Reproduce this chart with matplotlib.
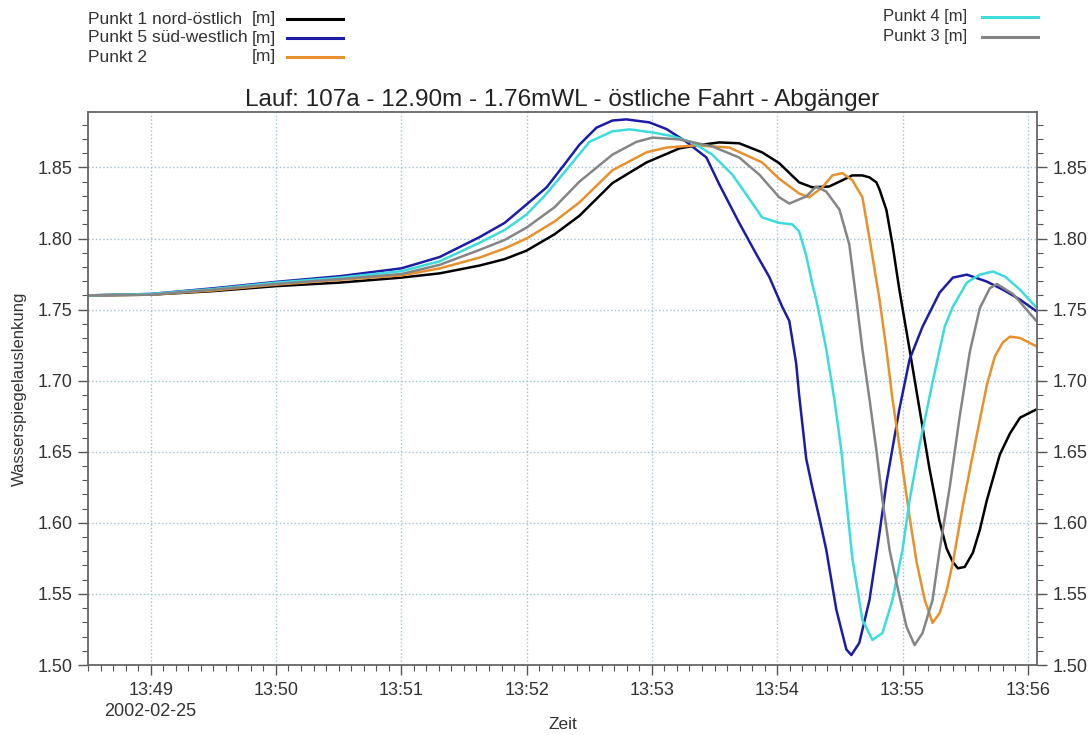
import matplotlib
matplotlib.use("Agg")
import matplotlib.pyplot as plt
import matplotlib.dates as mdates
from matplotlib.ticker import MultipleLocator, FormatStrFormatter, FuncFormatter
from matplotlib.lines import Line2D
import datetime as dt

plt.rcParams['font.family'] = ['Liberation Sans', 'DejaVu Sans']

TITLE = "Lauf: 107a - 12.90m - 1.76mWL - östliche Fahrt - Abgänger"
DATE_LABEL = "2002-02-25"
BASE = dt.datetime(2002, 2, 25, 13, 48, 0)   # times below: seconds after 13:48:00

# Punkt 1 nord-östlich
p1_t = [30, 60, 90, 120, 150.6, 180, 198.4, 217.5, 229.5, 240, 253.4, 265.3, 281.1, 297.4,
        313.2, 321.3, 332.3, 341.8, 352.8, 361, 370.5, 376.8, 384.9, 391.2, 396, 400.8, 404.2,
        407.5, 409, 412.3, 415.2, 418.5, 423.4, 428.2, 432.8, 437.6, 441.1, 444.1, 446.5, 449.8,
        453.7, 457, 460.4, 466.6, 471.5, 476.3, 484.4]
p1_v = [1.760, 1.7605, 1.763, 1.7665, 1.769, 1.7725, 1.7755, 1.781, 1.7855, 1.7915, 1.803, 1.816,
        1.839, 1.8535, 1.8634, 1.8655, 1.8676, 1.867, 1.8606, 1.853, 1.8395, 1.836, 1.8366, 1.841,
        1.8444, 1.8444, 1.843, 1.8395, 1.8345, 1.820, 1.7958, 1.764, 1.7218, 1.6796, 1.639, 1.602,
        1.582, 1.5725, 1.568, 1.569, 1.579, 1.595, 1.616, 1.648, 1.663, 1.674, 1.680]

# Punkt 5 süd-westlich
p5_t = [30, 60, 90, 120, 150.6, 180, 198.4, 217.5, 229.5, 240, 249.6, 259.1, 265.3, 273.5, 281.1,
        287.8, 298.8, 307, 316.5, 326.1, 332.3, 341.8, 350, 356.2, 362.4, 365.8, 369.1, 370.5,
        373.9, 376.8, 380.1, 383.5, 388.3, 393.1, 395.5, 399.3, 404.2, 409, 412.3, 418.5, 423.4,
        429.6, 437.8, 444.1, 450.8, 460.4, 468.1, 476.3, 484.4]
p5_v = [1.760, 1.761, 1.765, 1.7695, 1.7735, 1.779, 1.787, 1.801, 1.811, 1.824, 1.836, 1.854,
        1.866, 1.878, 1.883, 1.8838, 1.8817, 1.877, 1.868, 1.857, 1.838, 1.811, 1.789, 1.773,
        1.752, 1.742, 1.712, 1.690, 1.645, 1.625, 1.604, 1.581, 1.539, 1.511, 1.507, 1.5155,
        1.5458, 1.593, 1.628, 1.680, 1.715, 1.738, 1.762, 1.7725, 1.7746, 1.7697, 1.764, 1.757,
        1.7486]

# Punkt 2
p2_t = [30, 60, 90, 120, 150.6, 180, 198.4, 217.5, 229.5, 240, 253.4, 265.3, 281.1, 297.4, 307,
        321.3, 337.1, 352.8, 361, 370.5, 375.3, 381.6, 386.4, 391.2, 396, 400.8, 404.2, 409,
        412.3, 415.2, 420, 423.4, 426.8, 430.6, 434.4, 437.8, 441.1, 444.1, 448.9, 452.2, 455.6,
        460.4, 464.2, 468.1, 471.5, 476.3, 484.4]
p2_v = [1.760, 1.7605, 1.7635, 1.7675, 1.771, 1.774, 1.779, 1.7866, 1.793, 1.800, 1.812, 1.8254,
        1.848, 1.8606, 1.864, 1.8655, 1.864, 1.8535, 1.842, 1.8317, 1.829, 1.836, 1.8444, 1.846,
        1.841, 1.829, 1.800, 1.757, 1.722, 1.687, 1.639, 1.604, 1.572, 1.546, 1.5296, 1.5366,
        1.552, 1.572, 1.612, 1.637, 1.662, 1.697, 1.717, 1.727, 1.731, 1.730, 1.724]

# Punkt 4
p4_t = [30, 60, 90, 120, 150.6, 180, 198.4, 217.5, 229.5, 240, 248.6, 257.2, 270.1, 281.1, 289.3,
        300.3, 309.8, 319.4, 328.9, 338.5, 345.2, 352.8, 361, 367.2, 370.5, 373.9, 376.8, 378.7,
        381.1, 383.5, 387.4, 390.7, 393.1, 396, 400.8, 405.6, 410.4, 415.2, 420, 423.4, 428.2,
        434.4, 440.2, 444.1, 450.8, 457, 463.3, 469.1, 476.3, 484.4]
p4_v = [1.760, 1.761, 1.7645, 1.769, 1.7725, 1.777, 1.784, 1.797, 1.806, 1.8169, 1.830, 1.845,
        1.868, 1.8754, 1.8768, 1.8746, 1.872, 1.8676, 1.859, 1.845, 1.831, 1.8148, 1.811, 1.810,
        1.805, 1.788, 1.768, 1.757, 1.740, 1.722, 1.6866, 1.651, 1.616, 1.575, 1.5317, 1.5176,
        1.5225, 1.5458, 1.581, 1.616, 1.655, 1.699, 1.738, 1.752, 1.769, 1.7746, 1.7768, 1.7732,
        1.764, 1.751]

# Punkt 3
p3_t = [30, 60, 90, 120, 150.6, 180, 198.4, 217.5, 229.5, 240, 253.4, 265.3, 281.1, 292.6, 300.3,
        313.2, 328.9, 341.8, 351.4, 361, 365.8, 373.9, 378.7, 383.5, 389.8, 394.5, 397.9, 400.8,
        404.2, 407.5, 410.4, 413.8, 417.1, 421.9, 425.8, 429.6, 434.4, 437.8, 442.6, 447.4,
        452.2, 457, 461.8, 465.2, 472.9, 484.4]
p3_v = [1.760, 1.7605, 1.764, 1.768, 1.7715, 1.775, 1.7815, 1.792, 1.799, 1.8077, 1.822, 1.840,
        1.859, 1.868, 1.871, 1.8697, 1.8648, 1.857, 1.845, 1.829, 1.8246, 1.8296, 1.8366, 1.833,
        1.8204, 1.796, 1.757, 1.722, 1.687, 1.651, 1.616, 1.581, 1.558, 1.527, 1.514, 1.5225,
        1.5458, 1.581, 1.625, 1.675, 1.720, 1.751, 1.765, 1.768, 1.761, 1.7415]

series_names = ["Punkt 1 nord-östlich", "Punkt 5 süd-westlich", "Punkt 2", "Punkt 4", "Punkt 3"]
series_t = [p1_t, p5_t, p2_t, p4_t, p3_t]
series_v = [p1_v, p5_v, p2_v, p4_v, p3_v]
colors = ["#000000", "#1c1ca6", "#e8902c", "#3cdcdc", "#858585"]

fig = plt.figure(figsize=(10.92, 7.35), dpi=100)
ax = fig.add_axes([88 / 1092, 1 - 665 / 735, (1037 - 88) / 1092, (665 - 112) / 735])

for t, v, c in zip(series_t, series_v, colors):
    times = [BASE + dt.timedelta(seconds=s) for s in t]
    ax.plot(times, v, color=c, lw=1.8, solid_joinstyle='round', solid_capstyle='round')

ax.set_xlim(BASE + dt.timedelta(seconds=30), BASE + dt.timedelta(seconds=484.4))
ax.set_ylim(1.50, 1.889)

ax.xaxis.set_major_locator(mdates.MinuteLocator())
ax.xaxis.set_minor_locator(mdates.SecondLocator(bysecond=range(0, 60, 6)))


def fmt_x(x, pos):
    d = mdates.num2date(x)
    s = d.strftime("%H:%M")
    if pos == 0:
        s += "\n" + DATE_LABEL
    return s


ax.xaxis.set_major_formatter(FuncFormatter(fmt_x))
ax.yaxis.set_major_locator(MultipleLocator(0.05))
ax.yaxis.set_minor_locator(MultipleLocator(0.01))
ax.yaxis.set_major_formatter(FormatStrFormatter('%.2f'))

ax.tick_params(which='both', direction='out', colors='#555555', labelcolor='#333333',
               right=True, labelright=True, labelsize=13)
ax.tick_params(which='major', length=7, width=1.0)
ax.tick_params(which='minor', length=4, width=0.8)
ax.tick_params(axis='x', pad=5)
ax.tick_params(axis='y', pad=4)

for sp in ax.spines.values():
    sp.set_color('#666666')
    sp.set_linewidth(1.3)

ax.grid(True, which='major', color='#9dc3d3', linestyle=':', linewidth=1.0)

ax.set_title(TITLE, fontsize=17.5, color='#222222', pad=4)
ax.set_ylabel("Wasserspiegelauslenkung", fontsize=12, color='#333333', labelpad=8)
ax.set_xlabel("Zeit", fontsize=12.5, color='#333333')
ax.xaxis.set_label_coords(0.5, -0.094)

fig.canvas.draw()
for lab in ax.get_xticklabels():
    lab.set_linespacing(1.35)

# header legend
W, H = 1092.0, 735.0
left_rows = [19, 38, 57]
for i, idx in enumerate([0, 1, 2]):
    y = 1 - left_rows[i] / H
    fig.text(88 / W, y, series_names[idx], fontsize=12.5, color='#333333', va='center', ha='left')
    fig.text(276 / W, y, "[m]", fontsize=12.5, color='#333333', va='center', ha='right')
    fig.add_artist(Line2D([287 / W, 343 / W], [y, y], color=colors[idx], lw=2.2))
right_rows = [17, 37]
for i, idx in enumerate([3, 4]):
    y = 1 - right_rows[i] / H
    fig.text(883 / W, y, series_names[idx] + " [m]", fontsize=12, color='#333333',
             va='center', ha='left')
    fig.add_artist(Line2D([982 / W, 1038 / W], [y, y], color=colors[idx], lw=2.2))

fig.savefig("out.png", dpi=100)
